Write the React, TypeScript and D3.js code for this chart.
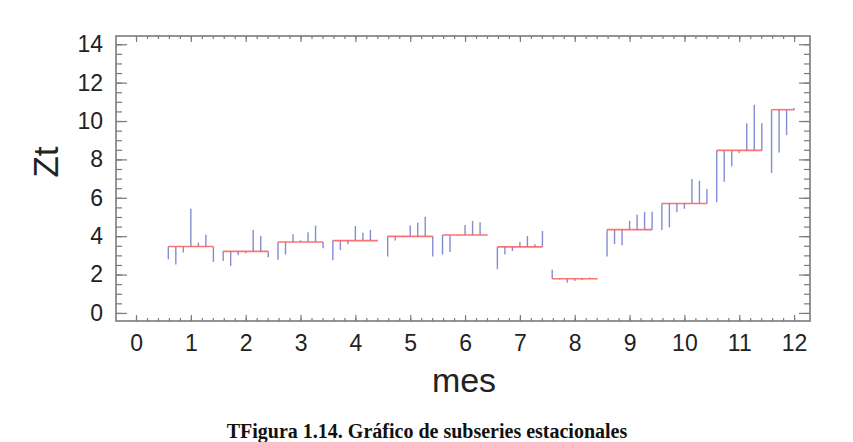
import React, { useEffect, useRef } from 'react';
import * as d3 from 'd3';

// subseries values per month (Zt)
const m01 = [2.80, 2.52, 3.15, 5.43, 3.66, 4.08, 2.66];
const m02 = [2.70, 2.45, 3.01, 3.11, 4.32, 4.01, 2.90];
const m03 = [2.77, 3.04, 4.10, 3.78, 4.20, 4.55, 3.37];
const m04 = [2.75, 3.28, 3.58, 4.53, 4.18, 4.32, 3.77];
const m05 = [2.94, 3.78, 3.94, 4.56, 4.70, 5.01, 2.94];
const m06 = [3.04, 3.18, 4.01, 4.58, 4.79, 4.73, 4.07];
const m07 = [2.28, 3.04, 3.23, 3.70, 4.01, 3.58, 4.27];
const m08 = [2.25, 1.74, 1.59, 1.66, 1.71, 1.85, 1.76];
const m09 = [2.94, 3.59, 3.53, 4.80, 5.11, 5.27, 5.27];
const m10 = [4.32, 4.46, 5.25, 5.43, 6.98, 6.89, 6.46];
const m11 = [5.77, 6.84, 7.64, 8.33, 9.89, 10.85, 9.89];
const m12 = [7.29, 8.36, 9.26, 10.68];
const subseries = [m01, m02, m03, m04, m05, m06, m07, m08, m09, m10, m11, m12];

// red reference line (month level) as drawn
const monthMeans = [3.46, 3.21, 3.70, 3.77, 3.99, 4.06, 3.44, 1.78, 4.34, 5.70, 8.47, 10.59];

const xTicks = [0, 1, 2, 3, 4, 5, 6, 7, 8, 9, 10, 11, 12];
const yTicks = [0, 2, 4, 6, 8, 10, 12, 14];

const W = 853;
const H = 442;

const App = () => {
  const ref = useRef<SVGSVGElement>(null);

  useEffect(() => {
    const svg = d3.select(ref.current);
    svg.selectAll('*').remove();

    // frame of the plot
    const frame = { left: 116, right: 810, top: 36, bottom: 321 };

    const x = d3.scaleLinear().domain([-0.365, 12.29]).range([frame.left, frame.right]);
    const y = d3.scaleLinear().domain([-0.42, 14.43]).range([frame.bottom, frame.top]);

    const axisColor = '#7a7a7a';
    const font = '"Liberation Sans", Arial, sans-serif';

    const styleAxis = (g) => {
      g.select('.domain').remove();
      g.selectAll('line').attr('stroke', axisColor).attr('stroke-width', 1.2);
      g.selectAll('text').attr('fill', '#222').attr('font-family', font).attr('font-size', 23);
    };

    const minorX = d3.range(0, 12.001, 0.2);
    const minorY = d3.range(0, 14.001, 0.5);

    // bottom axis
    svg.append('g').attr('transform', `translate(0,${frame.bottom})`)
      .call(d3.axisBottom(x).tickValues(minorX).tickSize(-3).tickFormat(() => ''))
      .call(styleAxis);
    svg.append('g').attr('transform', `translate(0,${frame.bottom})`)
      .call(d3.axisBottom(x).tickValues(xTicks).tickSize(-6).tickPadding(14).tickFormat(d3.format('d')))
      .call(styleAxis);

    // top axis
    svg.append('g').attr('transform', `translate(0,${frame.top})`)
      .call(d3.axisTop(x).tickValues(minorX).tickSize(-3).tickFormat(() => ''))
      .call(styleAxis);
    svg.append('g').attr('transform', `translate(0,${frame.top})`)
      .call(d3.axisTop(x).tickValues(xTicks).tickSize(-6).tickFormat(() => ''))
      .call(styleAxis);

    // left axis
    svg.append('g').attr('transform', `translate(${frame.left},0)`)
      .call(d3.axisLeft(y).tickValues(minorY).tickSize(-6).tickFormat(() => ''))
      .call(styleAxis);
    svg.append('g').attr('transform', `translate(${frame.left},0)`)
      .call(d3.axisLeft(y).tickValues(yTicks).tickSize(-11).tickPadding(13).tickFormat(d3.format('d')))
      .call(styleAxis);

    // right axis
    svg.append('g').attr('transform', `translate(${frame.right},0)`)
      .call(d3.axisRight(y).tickValues(minorY).tickSize(-6).tickFormat(() => ''))
      .call(styleAxis);
    svg.append('g').attr('transform', `translate(${frame.right},0)`)
      .call(d3.axisRight(y).tickValues(yTicks).tickSize(-11).tickFormat(() => ''))
      .call(styleAxis);

    svg.append('rect')
      .attr('x', frame.left).attr('y', frame.top)
      .attr('width', frame.right - frame.left).attr('height', frame.bottom - frame.top)
      .attr('fill', 'none').attr('stroke', axisColor).attr('stroke-width', 1.6);

    // subseries: one vertical per year from the month level to the value
    const step = 0.137;
    const plot = svg.append('g');
    subseries.forEach((vals, mi) => {
      const month = mi + 1;
      const level = monthMeans[mi];
      const xs = vals.map((_, i) => month + (i - 3) * step);

      plot.selectAll(null)
        .data(vals)
        .enter()
        .append('line')
        .attr('x1', (_, i) => x(xs[i]))
        .attr('x2', (_, i) => x(xs[i]))
        .attr('y1', y(level))
        .attr('y2', d => y(d))
        .attr('stroke', '#4f5cc0')
        .attr('stroke-opacity', 0.7)
        .attr('stroke-width', 1.4);

      plot.append('line')
        .attr('x1', x(xs[0]))
        .attr('x2', x(xs[xs.length - 1]))
        .attr('y1', y(level))
        .attr('y2', y(level))
        .attr('stroke', '#ff5b5b')
        .attr('stroke-opacity', 0.85)
        .attr('stroke-width', 1.6);
    });

    // axis titles
    svg.append('text')
      .attr('transform', 'translate(58,162) rotate(-90)')
      .attr('text-anchor', 'middle')
      .attr('font-family', font).attr('font-size', 35).attr('fill', '#222')
      .text('Zt');

    svg.append('text')
      .attr('x', 464).attr('y', 392)
      .attr('text-anchor', 'middle')
      .attr('font-family', font).attr('font-size', 34).attr('fill', '#222')
      .text('mes');

    svg.append('text')
      .attr('x', 427).attr('y', 438)
      .attr('text-anchor', 'middle')
      .attr('font-family', '"Liberation Serif", "Times New Roman", serif')
      .attr('font-weight', 'bold').attr('font-size', 20).attr('fill', '#111')
      .text('TFigura 1.14. Gráfico de subseries estacionales');
  }, []);

  return (
    <svg ref={ref} width={W} height={H}
      style={{ position: 'absolute', left: 0, top: 0, background: '#fff' }} />
  );
};

export default App;
